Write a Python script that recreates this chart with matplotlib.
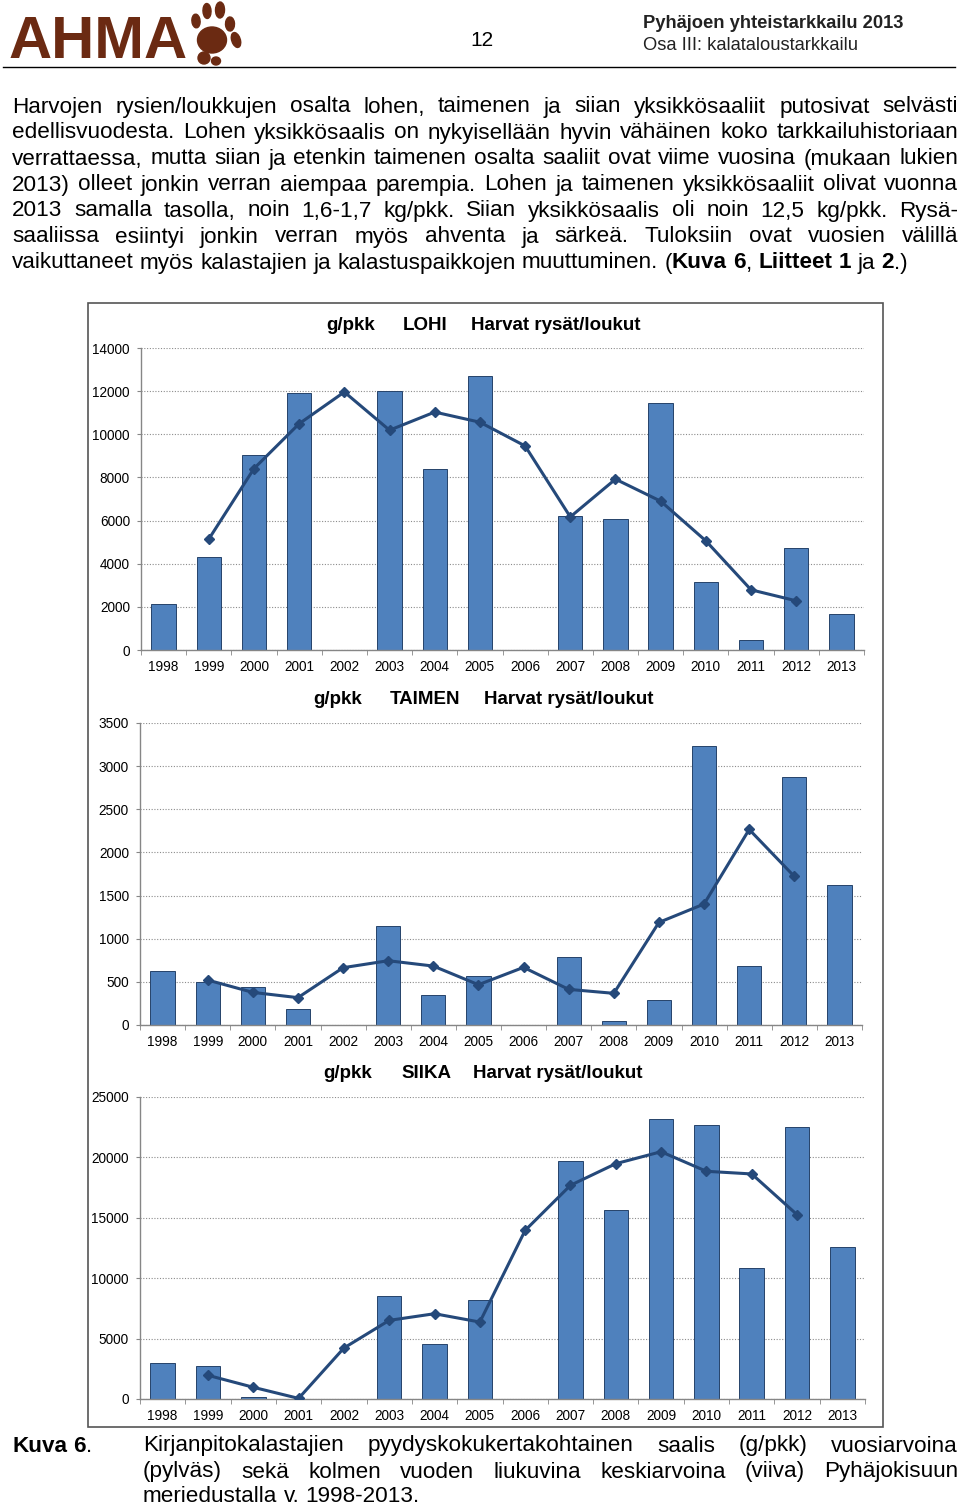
import numpy as np
import matplotlib
matplotlib.use("Agg")
import matplotlib.pyplot as plt
from matplotlib.patches import Rectangle, Ellipse
from matplotlib.lines import Line2D

# --------------------
# Data
# --------------------
YEARS = ["1998", "1999", "2000", "2001", "2002", "2003", "2004", "2005",
         "2006", "2007", "2008", "2009", "2010", "2011", "2012", "2013"]

lohi_bars = [2110, 4300, 9060, 11900, None, 12020, 8380, 12700,
             None, 6220, 6080, 11470, 3160, 480, 4750, 1670]
lohi_avg = [None, 5140, 8410, 10490, 11960, 10190, 11030, 10560,
            9460, 6170, 7920, 6900, 5060, 2790, 2280, None]

taimen_bars = [630, 495, 444, 185, None, 1147, 351, 564,
               None, 784, 46, 286, 3239, 680, 2869, 1618]
taimen_avg = [None, 521, 378, 317, 664, 745, 683, 467,
              668, 413, 367, 1189, 1402, 2266, 1722, None]

siika_bars = [3010, 2760, 140, None, None, 8500, 4550, 8200,
              None, 19670, 15670, 23210, 22650, 10820, 22520, 12560]
siika_avg = [None, 1960, 970, 50, 4220, 6510, 7060, 6370,
             13960, 17690, 19480, 20470, 18850, 18630, 15260, None]

lohi_ticks = [0, 2000, 4000, 6000, 8000, 10000, 12000, 14000]
taimen_ticks = [0, 500, 1000, 1500, 2000, 2500, 3000, 3500]
siika_ticks = [0, 5000, 10000, 15000, 20000, 25000]

PARAGRAPH = [
    "Harvojen rysien/loukkujen osalta lohen, taimenen ja siian yksikkösaaliit putosivat selvästi",
    "edellisvuodesta. Lohen yksikkösaalis on nykyisellään hyvin vähäinen koko tarkkailuhistoriaan",
    "verrattaessa, mutta siian ja etenkin taimenen osalta saaliit ovat viime vuosina (mukaan lukien",
    "2013) olleet jonkin verran aiempaa parempia. Lohen ja taimenen yksikkösaaliit olivat vuonna",
    "2013 samalla tasolla, noin 1,6-1,7 kg/pkk. Siian yksikkösaalis oli noin 12,5 kg/pkk. Rysä-",
    "saaliissa esiintyi jonkin verran myös ahventa ja särkeä. Tuloksiin ovat vuosien välillä",
]
CAPTION = [
    "Kirjanpitokalastajien pyydyskokukertakohtainen saalis (g/pkk) vuosiarvoina",
    "(pylväs) sekä kolmen vuoden liukuvina keskiarvoina (viiva) Pyhäjokisuun",
    "meriedustalla v. 1998-2013.",
]

W, H = 960, 1506
BAR_COLOR = "#4F81BD"
LINE_COLOR = "#25497A"
BROWN = "#6B2A12"
FONT = "Liberation Sans"

plt.rcParams['font.family'] = [FONT, 'DejaVu Sans']

fig = plt.figure(figsize=(W / 100, H / 100), dpi=100)
renderer = fig.canvas.get_renderer()


def fx(x):
    return x / W


def fy(y):
    return 1 - y / H


def put(x, y, s, **kw):
    return fig.text(fx(x), fy(y), s, **kw)


def width_of(s, size, weight):
    t = fig.text(0, 0, s, fontsize=size, fontweight=weight)
    w = t.get_window_extent(renderer).width
    t.remove()
    return w


def text_line(words, x0, x1, y, size, justify=True):
    # words: list of lists of (string, bold) segments
    widths = []
    for word in words:
        widths.append(sum(width_of(s, size, "bold" if b else "normal") for s, b in word))
    space = width_of("a a", size, "normal") - width_of("aa", size, "normal")
    if justify and len(words) > 1:
        gap = (x1 - x0 - sum(widths)) / (len(words) - 1)
    else:
        gap = space
    x = x0
    for word, w in zip(words, widths):
        xx = x
        for s, b in word:
            put(xx, y, s, fontsize=size, fontweight="bold" if b else "normal",
                va="center", ha="left")
            xx += width_of(s, size, "bold" if b else "normal")
        x += w + gap


def plain(line):
    return [[(w, False)] for w in line.split()]


# --------------------
# Header
# --------------------
put(9, 42, "AHMA", fontsize=43, fontweight="bold", color=BROWN, va="center", ha="left")
paw = [
    ((212, 40), 29, 26, 0), ((196, 21), 8, 14, 30), ((207, 11), 8, 15, 10),
    ((220, 10), 9, 16, -5), ((230, 24), 9, 14, -30), ((236, 40), 11, 12, -45),
    ((204, 58), 12, 12, 0), ((216, 61), 9, 8, 0),
]
for (cx, cy), ew, eh, ang in paw:
    fig.patches.append(Ellipse((fx(cx), fy(cy)), ew / W, eh / H, angle=ang,
                               transform=fig.transFigure, color=BROWN))
put(482, 41, "12", fontsize=15, va="center", ha="center")
put(643, 24, "Pyhäjoen yhteistarkkailu 2013", fontsize=13.2, fontweight="bold",
    va="center", ha="left", color="#222222")
put(643, 46, "Osa III: kalataloustarkkailu", fontsize=13.2, va="center", ha="left",
    color="#222222")
fig.lines.append(Line2D([fx(3), fx(955)], [fy(67), fy(67)], transform=fig.transFigure,
                        color="black", lw=1.0))

# --------------------
# Paragraph
# --------------------
BODY = 16.2
for i, line in enumerate(PARAGRAPH):
    text_line(plain(line), 12, 958, 107 + 26 * i, BODY)
last = plain("vaikuttaneet myös kalastajien ja kalastuspaikkojen muuttuminen.")
last += [[("(", False), ("Kuva", True)], [("6", True), (",", False)],
         [("Liitteet", True)], [("1", True)], [("ja", False)],
         [("2", True), (".)", False)]]
text_line(last, 12, 958, 263, BODY, justify=False)

# --------------------
# Chart frame
# --------------------
fig.patches.append(Rectangle((fx(88), fy(1427)), 795 / W, 1124 / H,
                             transform=fig.transFigure, fill=False,
                             edgecolor="#555555", lw=1.2))


def draw_chart(left, right, top, bottom, bars, avg, ticks, name, title_y, title_x):
    ax = fig.add_axes([fx(left), fy(bottom), (right - left) / W, (bottom - top) / H])
    x = np.arange(len(YEARS))
    b = np.array([np.nan if v is None else v for v in bars], dtype=float)
    a = np.array([np.nan if v is None else v for v in avg], dtype=float)
    ax.bar(x, b, width=0.54, color=BAR_COLOR, edgecolor="#26436A", linewidth=0.7, zorder=2)
    ax.plot(x, a, color=LINE_COLOR, lw=2.2, marker="D", markersize=5.5, zorder=3)
    ax.set_xlim(-0.5, len(YEARS) - 0.5)
    ax.set_ylim(0, ticks[-1])
    ax.set_yticks(ticks)
    ax.set_yticklabels([str(t) for t in ticks], fontsize=9.8)
    ax.set_xticks(x)
    ax.set_xticklabels(YEARS, fontsize=9.8)
    ax.set_xticks(np.arange(-0.5, len(YEARS)), minor=True)
    ax.tick_params(axis="x", which="major", length=0, pad=7)
    ax.tick_params(axis="x", which="minor", length=3.5, color="#868686", direction="out")
    ax.tick_params(axis="y", length=3, color="#868686", direction="out", pad=5)
    for sp in ["top", "right"]:
        ax.spines[sp].set_visible(False)
    for sp in ["left", "bottom"]:
        ax.spines[sp].set_color("#868686")
        ax.spines[sp].set_linewidth(1.0)
    ax.yaxis.grid(True, linestyle=(0, (1, 1.5)), color="#8c8c8c", lw=0.8, zorder=0)
    ax.set_axisbelow(True)
    ax.patch.set_alpha(0)
    for part, px in zip(["g/pkk", name, "Harvat rysät/loukut"], title_x):
        put(px, title_y, part, fontsize=13.5, fontweight="bold", va="center", ha="left")
    return ax


draw_chart(141, 864, 348, 650, lohi_bars, lohi_avg, lohi_ticks, "LOHI", 325,
           [326, 403, 471])
draw_chart(140, 862, 723, 1025, taimen_bars, taimen_avg, taimen_ticks, "TAIMEN", 700,
           [313, 390, 484])
draw_chart(140, 865, 1097, 1399, siika_bars, siika_avg, siika_ticks, "SIIKA", 1074,
           [323, 401, 473])

# --------------------
# Caption
# --------------------
text_line([[("Kuva", True)], [("6", True), (".", False)]], 12, 200, 1446, BODY, justify=False)
text_line(plain(CAPTION[0]), 143, 958, 1446, BODY)
text_line(plain(CAPTION[1]), 143, 958, 1472, BODY)
text_line(plain(CAPTION[2]), 143, 958, 1497, BODY, justify=False)

fig.savefig("out.png", dpi=100)
